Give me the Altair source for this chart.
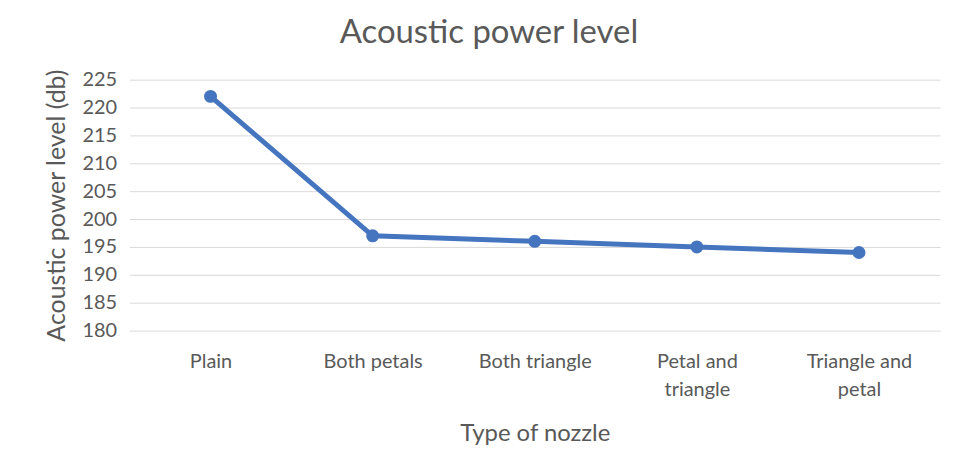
import altair as alt
import pandas as pd

categories = ["Plain", "Both petals", "Both triangle", "Petal and triangle", "Triangle and petal"]
values = [222, 197, 196, 195, 194]
y_ticks = [180, 185, 190, 195, 200, 205, 210, 215, 220, 225]

df = pd.DataFrame({"nozzle": categories, "level": values})

label_expr = (
    "datum.value == 'Petal and triangle' ? ['Petal and', 'triangle'] : "
    "datum.value == 'Triangle and petal' ? ['Triangle and', 'petal'] : datum.value"
)

FONT = "Lato"
TEXT = "#595959"
BLUE = "#4675C0"

base = alt.Chart(df).encode(
    x=alt.X(
        "nozzle:N",
        sort=categories,
        scale=alt.Scale(paddingInner=0, paddingOuter=0.5),
        axis=alt.Axis(
            title="Type of nozzle",
            labelAngle=0,
            labelExpr=label_expr,
            labelFontSize=20,
            labelColor=TEXT,
            labelPadding=21,
            labelLineHeight=28,
            titleFontSize=24,
            titleFontWeight="normal",
            titleColor=TEXT,
            titlePadding=22,
            ticks=False,
            domain=False,
            grid=False,
        ),
    ),
    y=alt.Y(
        "level:Q",
        scale=alt.Scale(domain=[180, 225], nice=False, zero=False),
        axis=alt.Axis(
            title="Acoustic power level (db)",
            values=y_ticks,
            labelFontSize=20,
            labelColor=TEXT,
            labelPadding=13,
            titleFontSize=25,
            titleFontWeight="normal",
            titleColor=TEXT,
            titlePadding=12,
            ticks=False,
            domain=False,
            gridColor="#D9D9D9",
            gridWidth=1,
        ),
    ),
)

line = base.mark_line(color=BLUE, strokeWidth=5)
points = base.mark_point(filled=True, color=BLUE, size=170, opacity=1)

chart = (
    (line + points)
    .properties(
        width=814,
        height=252,
        title=alt.TitleParams(
            "Acoustic power level",
            fontSize=33,
            font=FONT,
            fontWeight="normal",
            color=TEXT,
            offset=19,
            dx=-46,
        ),
        autosize=alt.AutoSizeParams(type="none"),
        padding={"left": 122, "top": 71, "right": 10, "bottom": 125},
    )
    .configure(font=FONT)
    .configure_view(stroke=None)
    .configure_axis(labelFont=FONT, titleFont=FONT)
)

chart.save("out.html", embed_options={"renderer": "svg", "actions": False})
